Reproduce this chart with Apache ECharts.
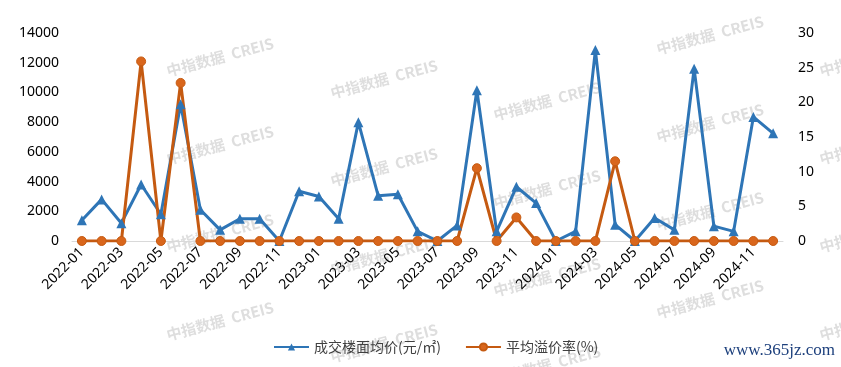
<!DOCTYPE html>
<html><head><meta charset="utf-8">
<script src="https://cdn.jsdelivr.net/npm/echarts@6/dist/echarts.min.js"></script>
<style>html,body{margin:0;padding:0;background:#fff}#c{width:841px;height:367px}</style>
</head><body><div id="c"></div>
<script>
const categories = ['2022-01','2022-02','2022-03','2022-04','2022-05','2022-06','2022-07','2022-08','2022-09','2022-10','2022-11','2022-12',
'2023-01','2023-02','2023-03','2023-04','2023-05','2023-06','2023-07','2023-08','2023-09','2023-10','2023-11','2023-12',
'2024-01','2024-02','2024-03','2024-04','2024-05','2024-06','2024-07','2024-08','2024-09','2024-10','2024-11','2024-12'];
const priceValues = [1400,2800,1200,3800,1800,9200,2100,750,1500,1500,0,3350,
3000,1500,8000,3050,3150,650,0,1050,10150,650,3650,2550,
0,650,12850,1100,0,1550,750,11600,1000,650,8350,7250];
const premiumValues = [0,0,0,25.9,0,22.8,0,0,0,0,0,0,
0,0,0,0,0,0,0,0,10.5,0,3.4,0,
0,0,0,11.5,0,0,0,0,0,0,0,0];
const leftTicks = [0,14000,2000];
const rightTicks = [0,30,5];
const seriesNames = ['成交楼面均价(元/㎡)','平均溢价率(%)'];

const wmCols = [[220,57],[384,79],[547,101],[710,35],[873,57]];
const graphics = [];
wmCols.forEach(([x,y0])=>{
  for(let y=y0; y<380; y+=88){
    graphics.push({type:'text', x:x, y:y, rotation: 15*Math.PI/180, z:-10, silent:true,
      style:{text:'中指数据  CREIS', fill:'#dedede', font:'bold 15px "Noto Sans CJK SC", sans-serif', align:'center', verticalAlign:'middle'}});
  }
});
graphics.push({type:'text', right:6, top:342, z:10,
  style:{text:'www.365jz.com', fill:'#1c3f7c', font:'17px "Liberation Serif", serif'}});

const chart = echarts.init(document.getElementById('c'));
chart.setOption({
  animation:false,
  textStyle:{fontFamily:'"Noto Sans","Noto Sans CJK SC",sans-serif'},
  graphic: graphics,
  grid:{left:72,right:58,top:33,bottom:126,containLabel:false},
  legend:{bottom:8,left:268,itemWidth:35,itemHeight:9,itemGap:24,
    textStyle:{fontSize:14,color:'#404040',fontFamily:'"Noto Sans CJK SC",sans-serif'},
    data:seriesNames},
  xAxis:{type:'category',data:categories,boundaryGap:true,
    axisLine:{lineStyle:{color:'#d9d9d9'}},axisTick:{show:false},
    axisLabel:{interval:1,rotate:45,fontSize:14,color:'#000',margin:9}},
  yAxis:[
    {type:'value',min:leftTicks[0],max:leftTicks[1],interval:leftTicks[2],
     splitLine:{show:false},axisLine:{show:false},axisTick:{show:false},
     axisLabel:{fontSize:14,color:'#000',margin:13,formatter:v=>String(v)}},
    {type:'value',min:rightTicks[0],max:rightTicks[1],interval:rightTicks[2],
     splitLine:{show:false},axisLine:{show:false},axisTick:{show:false},
     axisLabel:{fontSize:14,color:'#000',margin:15}}
  ],
  series:[
    {name:seriesNames[0],type:'line',yAxisIndex:0,data:priceValues,
     symbol:'triangle',symbolSize:10,showAllSymbol:true,
     lineStyle:{width:3,color:'#2E75B6'},itemStyle:{color:'#2E75B6'}},
    {name:seriesNames[1],type:'line',yAxisIndex:1,data:premiumValues,
     symbol:'circle',symbolSize:9,showAllSymbol:true,
     lineStyle:{width:3,color:'#C55A11'},itemStyle:{color:'#D9661C',borderColor:'#C55A11',borderWidth:1}}
  ]
});
</script></body></html>
